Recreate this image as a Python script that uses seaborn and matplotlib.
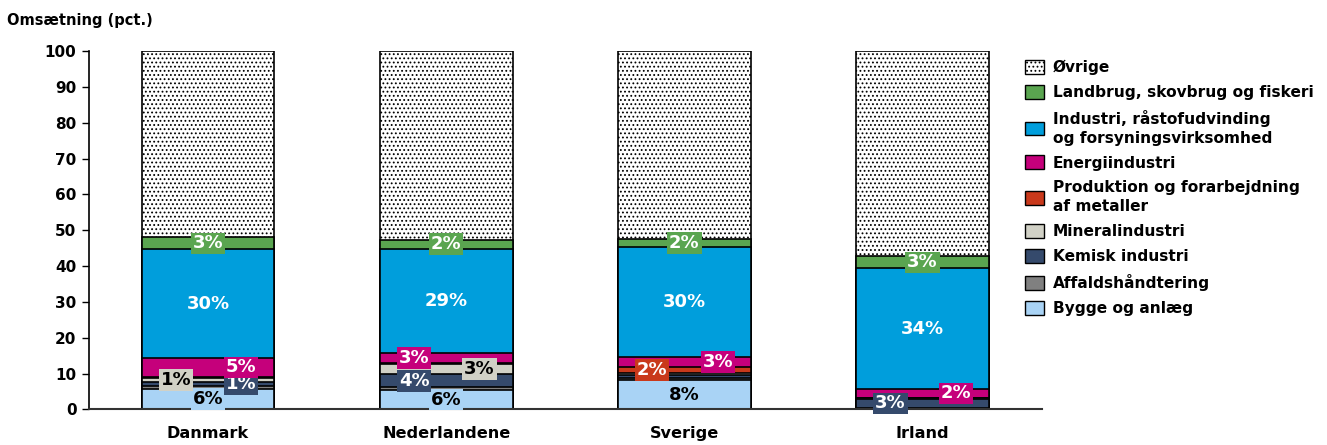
import numpy as np
import pandas as pd
import matplotlib
matplotlib.use("Agg")
import matplotlib.pyplot as plt
import seaborn as sns
from matplotlib.patches import Rectangle

# === Data (pct. of turnover) ===
countries = ["Danmark", "Nederlandene", "Sverige", "Irland"]

bygge = [5.8, 5.5, 8.1, 0.2]
affald = [0.8, 0.7, 0.6, 0.2]
kemisk = [1.0, 3.6, 0.8, 2.6]
mineral = [1.2, 2.8, 0.7, 0.2]
produktion = [0.3, 0.4, 1.6, 0.1]
energi = [5.3, 2.8, 2.9, 2.3]
industri = [30.3, 29.1, 30.5, 33.8]
landbrug = [3.3, 2.4, 2.4, 3.3]

categories = [
    "Bygge og anlæg",
    "Affaldshåndtering",
    "Kemisk industri",
    "Mineralindustri",
    "Produktion og forarbejdning\naf metaller",
    "Energiindustri",
    "Industri, råstofudvinding\nog forsyningsvirksomhed",
    "Landbrug, skovbrug og fiskeri",
    "Øvrige",
]
series = [bygge, affald, kemisk, mineral, produktion, energi, industri, landbrug]
ovrige = [100 - sum(v) for v in zip(*series)]
series.append(ovrige)

colors = ["#A9D3F5", "#808080", "#354A6C", "#D1D1C6", "#C9391B",
          "#C5007B", "#009EDC", "#5AA550", "#FFFFFF"]
text_colors = ["black", "white", "white", "black", "white",
               "white", "white", "white", "black"]

# which segments get a label, and where (c = centre, l = left, r = right)
labels = {
    ("Danmark", 0): "c", ("Danmark", 3): "l", ("Danmark", 2): "r",
    ("Danmark", 5): "r", ("Danmark", 6): "c", ("Danmark", 7): "c",
    ("Nederlandene", 0): "c", ("Nederlandene", 2): "l", ("Nederlandene", 3): "r",
    ("Nederlandene", 5): "l", ("Nederlandene", 6): "c", ("Nederlandene", 7): "c",
    ("Sverige", 0): "c", ("Sverige", 4): "l", ("Sverige", 5): "r",
    ("Sverige", 6): "c", ("Sverige", 7): "c",
    ("Irland", 2): "l", ("Irland", 5): "r", ("Irland", 6): "c", ("Irland", 7): "c",
}
offsets = {"c": 0.0, "l": -0.135, "r": 0.14}

# === Long table with cumulative tops ===
rows = []
for ci, c in enumerate(countries):
    lower = 0.0
    for k, cat in enumerate(categories):
        v = series[k][ci]
        rows.append({"Land": c, "Kategori": cat, "k": k, "value": v,
                     "lower": lower, "top": lower + v})
        lower += v
df = pd.DataFrame(rows)

# === Plot ===
sns.set_style("ticks")
plt.rcParams["font.family"] = ["DejaVu Sans"]
plt.rcParams["text.color"] = "black"
plt.rcParams["xtick.color"] = "black"
plt.rcParams["ytick.color"] = "black"
plt.rcParams["axes.edgecolor"] = "black"
plt.rcParams["hatch.color"] = "#a8a8a8"
plt.rcParams["hatch.linewidth"] = 0.8

HATCH = "...."

fig = plt.figure(figsize=(13.27, 4.45), dpi=100)
ax = fig.add_axes([0.067, 0.080, 0.718, 0.805])

# draw cumulative bars from the top down so lower ones cover upper ones
for k in reversed(range(len(categories))):
    sub = df[df["k"] == k]
    sns.barplot(data=sub, x="Land", y="top", order=countries, color=colors[k],
                saturation=1, width=0.558, edgecolor="black", linewidth=1.2,
                hatch=HATCH if k == 8 else None, errorbar=None, ax=ax)

# segment labels
for (c, k), pos in labels.items():
    r = df[(df["Land"] == c) & (df["k"] == k)].iloc[0]
    xi = countries.index(c) + offsets[pos]
    ax.text(xi, (r["lower"] + r["top"]) / 2, f"{r['value']:.0f}%",
            ha="center", va="center", fontsize=13, fontweight="bold",
            color=text_colors[k],
            bbox=dict(boxstyle="square,pad=0.1", facecolor=colors[k],
                      edgecolor="none"))

ax.set_ylim(0, 100)
ax.set_xlim(-0.5, 3.5)
ax.set_yticks(range(0, 101, 10))
ax.set_xlabel("")
ax.set_ylabel("")
sns.despine(ax=ax)
ax.spines["left"].set_linewidth(1.2)
ax.spines["bottom"].set_linewidth(1.5)
ax.spines["bottom"].set_color("#333333")
ax.tick_params(axis="y", length=5, width=1, labelsize=11, pad=4)
ax.tick_params(axis="x", length=0, labelsize=11.6, pad=12)
for t in ax.get_xticklabels() + ax.get_yticklabels():
    t.set_fontweight("bold")

fig.text(0.005, 0.955, "Omsætning (pct.)", fontsize=10.5, fontweight="bold",
         ha="left", va="center")

# legend, top category first
handles = []
for k in reversed(range(len(categories))):
    handles.append(Rectangle((0, 0), 1, 1, facecolor=colors[k], edgecolor="black",
                             linewidth=1, hatch=HATCH if k == 8 else None))
leg = fig.legend(handles, list(reversed(categories)), loc="upper left",
                 bbox_to_anchor=(0.762, 0.897), frameon=False,
                 prop={"weight": "bold", "size": 11.1},
                 handlelength=1.2, handleheight=1.0, labelspacing=0.64,
                 handletextpad=0.6)
for t in leg.get_texts():
    t.set_linespacing(1.3)

fig.savefig("out.png", dpi=100)
